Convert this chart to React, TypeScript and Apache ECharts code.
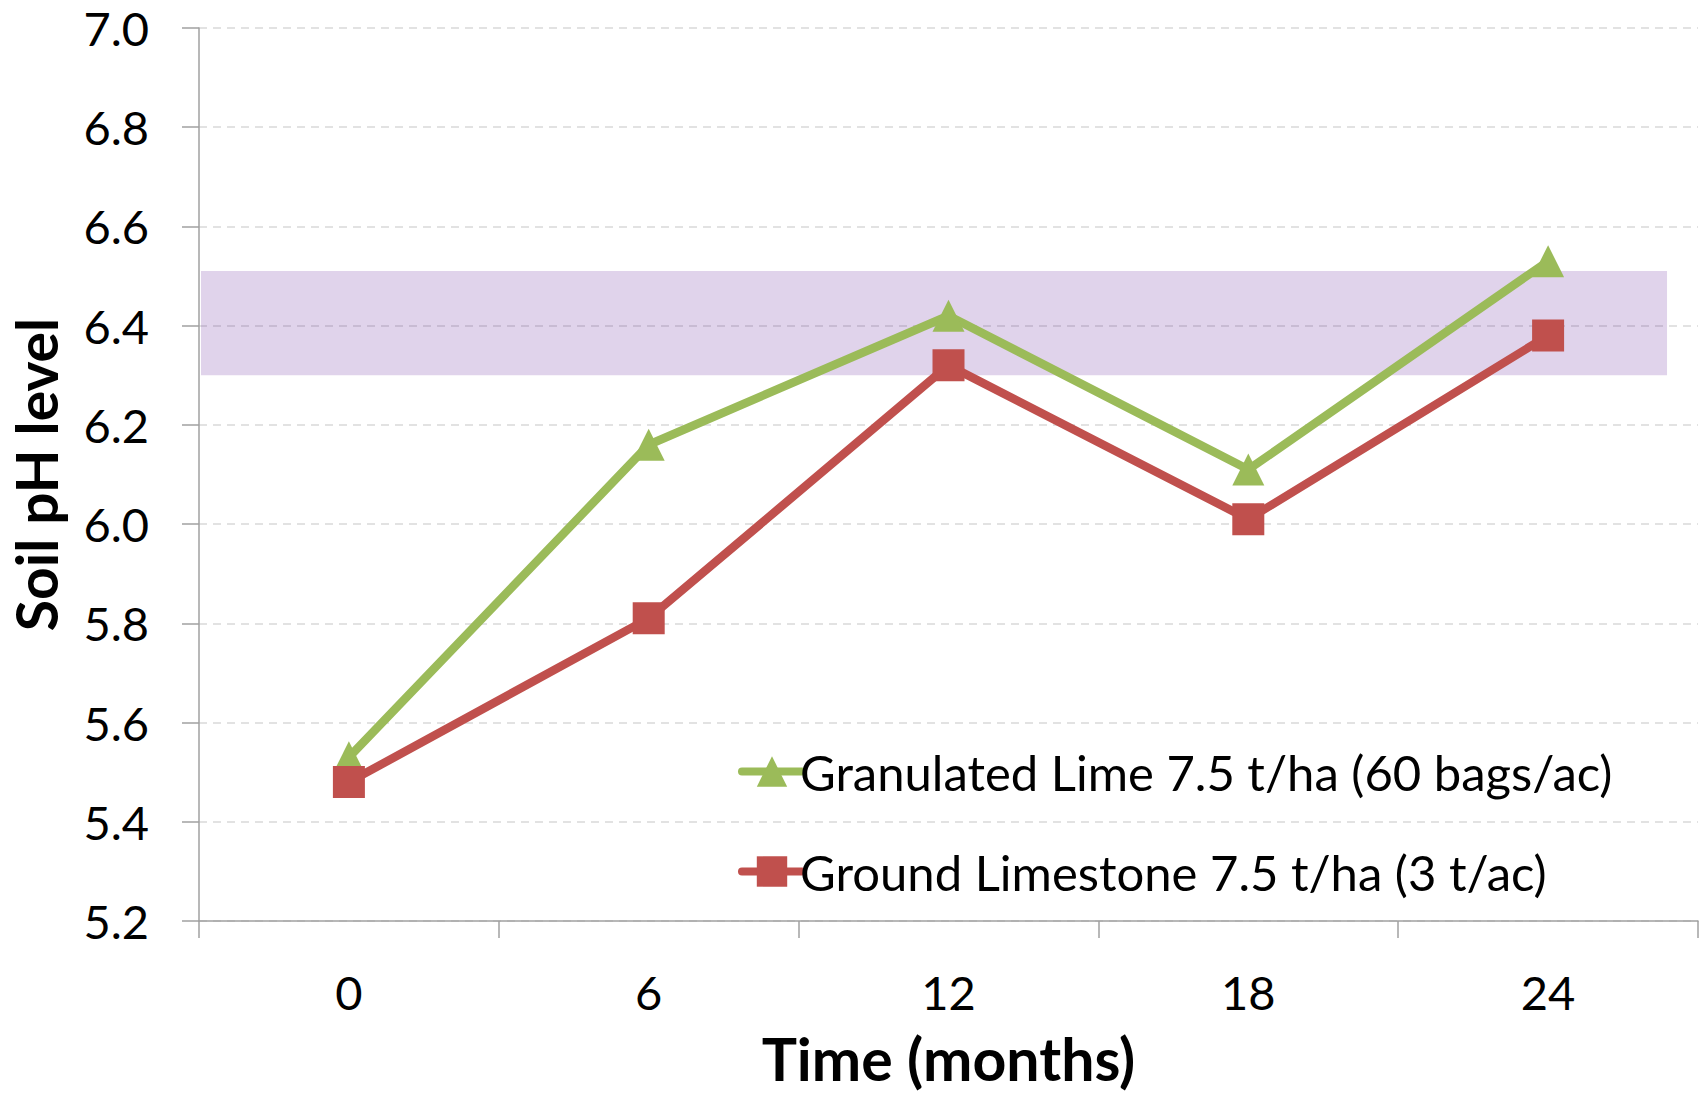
import React, { useEffect, useRef } from "react";
import * as echarts from "echarts";

// Sampling times (months after application)
const months = ["0", "6", "12", "18", "24"];

// Soil pH readings for each treatment
const granulatedLime = [5.53, 6.16, 6.42, 6.11, 6.53];
const groundLimestone = [5.48, 5.81, 6.32, 6.01, 6.38];

const seriesNames = [
  "Granulated Lime 7.5 t/ha (60 bags/ac)",
  "Ground Limestone 7.5 t/ha (3 t/ac)",
];

// Target pH range shown as a shaded band
const targetLow = 6.3;
const targetHigh = 6.51;

// y-axis scale
const yMin = 5.2;
const yMax = 7.0;
const yStep = 0.2;

const GREEN = "#9BBB59";
const RED = "#C0504D";
const FONT = "Lato";

export default function App() {
  const ref = useRef<HTMLDivElement>(null);

  useEffect(() => {
    if (!ref.current) return;
    const chart = echarts.init(ref.current, undefined, { renderer: "svg" });

    const option: any = {
      animation: false,
      backgroundColor: "#ffffff",
      textStyle: { fontFamily: FONT, color: "#000" },
      grid: {
        left: 199,
        top: 28,
        right: 9,
        bottom: 173,
        containLabel: false,
        outerBoundsMode: "none",
      },
      legend: {
        orient: "vertical",
        left: 733,
        top: 742,
        itemWidth: 60,
        itemHeight: 38,
        itemGap: 51,
        lineStyle: { width: 8, cap: "round" },
        textStyle: {
          fontFamily: FONT,
          fontSize: 49,
          lineHeight: 40,
          color: "#000",
          padding: [0, 0, 0, -7],
        },
        data: seriesNames,
      },
      xAxis: [
        {
          type: "category",
          data: months,
          boundaryGap: true,
          name: "Time (months)",
          nameLocation: "middle",
          nameGap: 108,
          nameTextStyle: { fontFamily: FONT, fontSize: 59, fontWeight: "bold", color: "#000" },
          axisLine: { lineStyle: { color: "#A0A0A0", width: 1.5 } },
          axisTick: { show: true, length: 17, lineStyle: { color: "#A0A0A0", width: 1.5 } },
          axisLabel: { fontFamily: FONT, fontSize: 47, color: "#000", margin: 47 },
          splitLine: { show: false },
        },
        {
          // helper axis used to place the target band horizontally
          type: "value",
          min: -3,
          max: 27,
          show: false,
        },
      ],
      yAxis: {
        type: "value",
        min: yMin,
        max: yMax,
        interval: yStep,
        name: "Soil pH level",
        nameLocation: "middle",
        nameGap: 135,
        nameRotate: 90,
        nameTextStyle: { fontFamily: FONT, fontSize: 57, fontWeight: "bold", color: "#000" },
        axisLine: { show: true, onZero: false, lineStyle: { color: "#A0A0A0", width: 1.5 } },
        axisTick: { show: true, length: 17, lineStyle: { color: "#A0A0A0", width: 1.5 } },
        axisLabel: {
          fontFamily: FONT,
          fontSize: 47,
          color: "#000",
          margin: 50,
          formatter: (v: number) => v.toFixed(1),
        },
        splitLine: {
          show: true,
          lineStyle: { color: "#D9D9D9", width: 1.5, type: [8, 6] },
        },
      },
      series: [
        {
          name: seriesNames[0],
          type: "line",
          data: granulatedLime,
          z: 2,
          symbol: "triangle",
          symbolSize: 32,
          lineStyle: { color: GREEN, width: 8.5, cap: "round" },
          itemStyle: { color: GREEN },
        },
        {
          name: seriesNames[1],
          type: "line",
          data: groundLimestone,
          z: 3,
          symbol: "rect",
          symbolSize: 32,
          lineStyle: { color: RED, width: 8.5, cap: "round" },
          itemStyle: { color: RED },
        },
        {
          name: "target",
          type: "line",
          xAxisIndex: 1,
          data: [],
          z: 5,
          silent: true,
          markArea: {
            silent: true,
            itemStyle: { color: "rgba(100,35,155,0.2)" },
            data: [
              [
                { coord: [-2.96, targetHigh] },
                { coord: [26.38, targetLow] },
              ],
            ],
          },
        },
      ],
    };

    chart.setOption(option);
    return () => chart.dispose();
  }, []);

  return (
    <div
      ref={ref}
      style={{ position: "fixed", left: 0, top: 0, width: 1707, height: 1094, background: "#fff" }}
    />
  );
}
